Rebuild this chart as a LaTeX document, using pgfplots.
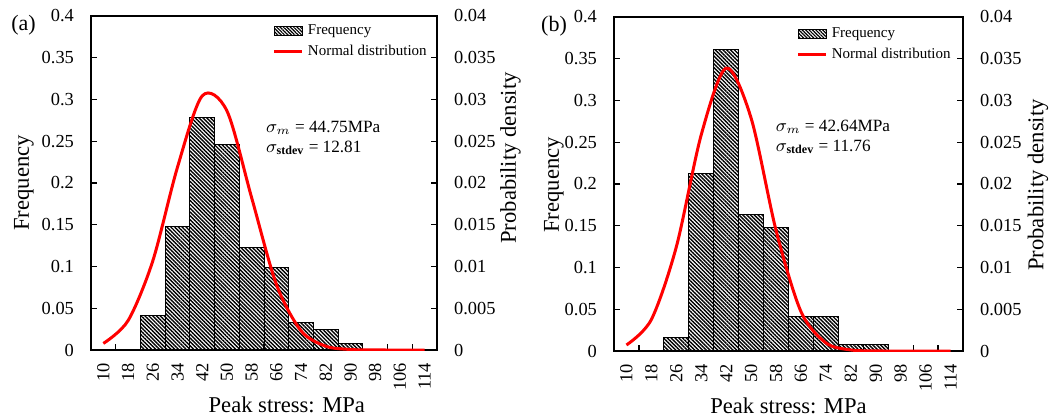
\documentclass[border=0pt]{standalone}
\usepackage{fontspec}
\setmainfont{Liberation Serif}
\usepackage{pgfplots}
\pgfplotsset{compat=1.18}
\usetikzlibrary{patterns.meta}
\definecolor{curvered}{RGB}{255,0,0}

\pgfplotsset{
  common/.style={
    scale only axis, anchor=south west,
    xmin=6, xmax=118, ymin=0,
    scaled y ticks=false, scaled x ticks=false,
    tick align=inside, major tick length=2.8pt, minor tick length=2.8pt,
    axis line style={line width=0.7pt,-},
    every tick/.style={black,line width=0.6pt},
    /pgf/number format/assume math mode=true,
    tick label style={font=\fontsize{9.2}{10}\selectfont},
    label style={font=\fontsize{11.3}{13}\selectfont},
  },
  freqaxis/.style={
    common,
    ymax=0.4,
    ytick={0,0.05,0.1,0.15,0.2,0.25,0.3,0.35,0.4},
    yticklabel style={/pgf/number format/fixed,/pgf/number format/precision=2},
    ytick pos=left, xtick pos=bottom,
    yticklabel shift=5pt,
    xtick={10,18,...,114},
    major x tick style={draw=none},
    minor xtick={14,22,...,110},
    xticklabel style={rotate=90, anchor=east},
    xticklabel shift=3pt,
    ylabel={Frequency},
    xlabel={Peak stress: MPa},
  },
  densaxis/.style={
    common,
    ymax=0.04,
    axis y line*=right, axis x line=none,
    ytick={0,0.005,0.01,0.015,0.02,0.025,0.03,0.035,0.04},
    yticklabel style={/pgf/number format/fixed,/pgf/number format/precision=3},
    yticklabel shift=5pt,
    ylabel={Probability density},
    legend style={draw=none, fill=none, inner sep=0pt, font=\fontsize{7.5}{8}\selectfont},
    legend cell align=left,
  },
  histbar/.style={
    ybar, bar width=8, bar shift=0pt, draw=black, line width=0.5pt,
    pattern={Lines[angle=-45,distance=1.35pt,line width=0.7pt]},
  },
  barlegend/.style={
    legend image code/.code={\draw[draw=black,line width=0.4pt,pattern={Lines[angle=-45,distance=1.2pt,line width=0.6pt]}] (0pt,-2.2pt) rectangle (14pt,2.2pt);}
  },
  curvelegend/.style={
    legend image code/.code={\draw[curvered,line width=1.5pt] (0pt,0pt) -- (14pt,0pt);}
  },
  normcurve/.style={curvered, line width=1.5pt, smooth, no markers},
}

\begin{document}
\begin{tikzpicture}
\path[use as bounding box] (0,0) rectangle (525.5pt,209.5pt);

% ---------------- panel (a)
\begin{axis}[freqaxis, at={(45.5pt,34.5pt)}, width=173pt, height=167pt,
  xlabel style={at={(axis description cs:0.566,-0.165)}, anchor=center},
  ylabel style={at={(axis description cs:-0.194,0.5)}, anchor=center}]
\addplot[histbar] coordinates {
 (26,0.0410) (34,0.1475) (42,0.2787) (50,0.2459) (58,0.1230)
 (66,0.0984) (74,0.0328) (82,0.0246) (90,0.0082)};
\node[anchor=west, align=left, font=\fontsize{8.6}{10}\selectfont] at (axis cs:60.4,0.254)
 {$\sigma_m$ = 44.75MPa\\ $\sigma_{\mathbf{stdev}}$ = 12.81};
\end{axis}
\begin{axis}[densaxis, at={(45.5pt,34.5pt)}, width=173pt, height=167pt,
  ylabel style={at={(axis description cs:1.212,0.575)}, anchor=center},
  legend style={at={(0.983,0.988)}, anchor=north east}]
\addlegendimage{barlegend}
\addlegendentry{Frequency}
\addplot[normcurve, curvelegend] coordinates {
 (10,0.000786) (18,0.003520) (26,0.010670) (34,0.021901) (42,0.030434)
 (50,0.028634) (58,0.018240) (66,0.007867) (74,0.002297) (82,0.000454)
 (90,0.000061) (98,0.000006) (106,0) (114,0)};
\addlegendentry{Normal distribution}
\end{axis}
\node[font=\fontsize{11}{12}\selectfont] at (11.75pt,197pt) {(a)};

% ---------------- panel (b)
\begin{axis}[freqaxis, at={(307pt,34pt)}, width=174.5pt, height=167pt,
  xlabel style={at={(axis description cs:0.5,-0.165)}, anchor=center},
  ylabel style={at={(axis description cs:-0.172,0.497)}, anchor=center}]
\addplot[histbar] coordinates {
 (26,0.0164) (34,0.2131) (42,0.3607) (50,0.1639) (58,0.1475)
 (66,0.0410) (74,0.0410) (82,0.0082) (90,0.0082)};
\node[anchor=west, align=left, font=\fontsize{8.6}{10}\selectfont] at (axis cs:55.7,0.256)
 {$\sigma_m$ = 42.64MPa\\ $\sigma_{\mathbf{stdev}}$ = 11.76};
\end{axis}
\begin{axis}[densaxis, at={(307pt,34pt)}, width=174.5pt, height=167pt,
  ylabel style={at={(axis description cs:1.215,0.497)}, anchor=center},
  legend style={at={(0.977,0.982)}, anchor=north east}]
\addlegendimage{barlegend}
\addlegendentry{Frequency}
\addplot[normcurve, curvelegend] coordinates {
 (10,0.000721) (18,0.003778) (26,0.012467) (34,0.025899) (42,0.033874)
 (50,0.027890) (58,0.014457) (66,0.004718) (74,0.000969) (82,0.000125)
 (90,0.000010) (98,0) (106,0) (114,0)};
\addlegendentry{Normal distribution}
\end{axis}
\node[font=\fontsize{11}{12}\selectfont] at (277pt,196.25pt) {(b)};
\end{tikzpicture}
\end{document}
